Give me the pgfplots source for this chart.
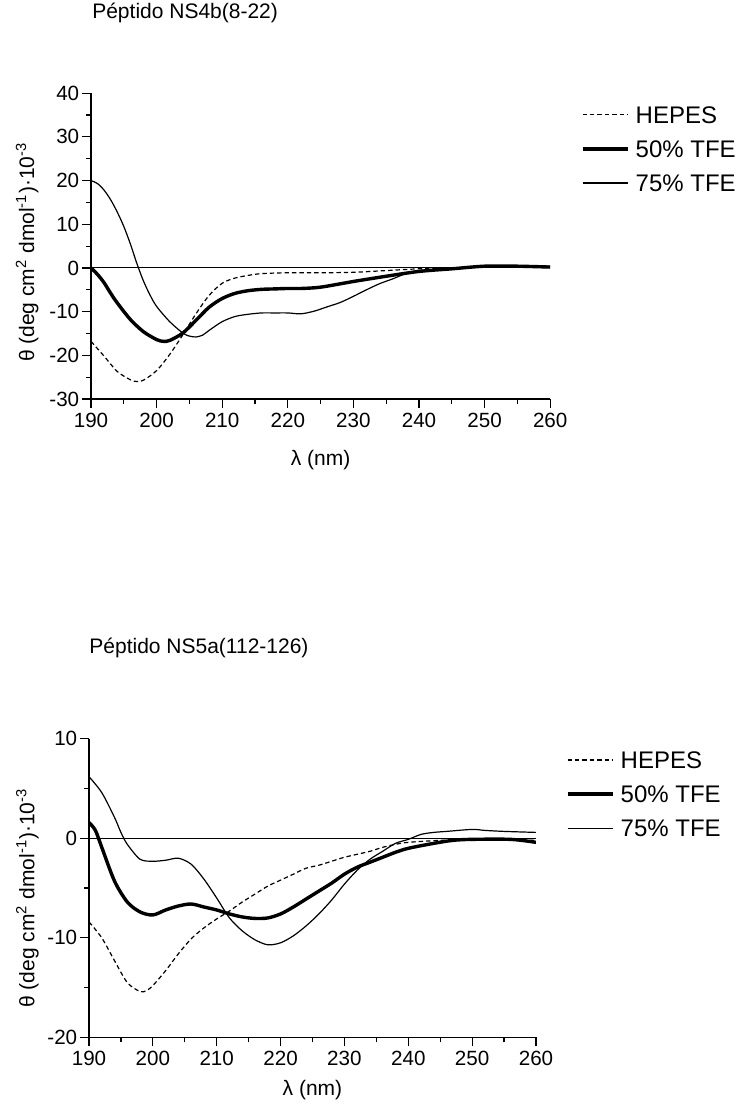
\documentclass[border=0pt]{standalone}
\usepackage{fontspec}
\setmainfont{Liberation Sans}
\usepackage{pgfplots}
\pgfplotsset{compat=1.18}

\pgfplotsset{
  cdaxis/.style={
    scale only axis,
    xmin=190, xmax=260,
    xtick={190,200,...,260},
    minor x tick num=1,
    minor y tick num=1,
    axis x line*=bottom,
    axis y line*=left,
    axis line style={line width=0.6pt, -},
    tick align=outside,
    major tick length=4.5pt,
    minor tick length=2.5pt,
    tick style={line width=0.6pt, black},
    every tick label/.append style={font=\fontsize{10.3}{12}\selectfont},
    /pgf/number format/assume math mode=true,
    xticklabel style={inner sep=2.3pt},
    yticklabel style={inner sep=1.2pt},
    label style={font=\fontsize{10.5}{12}\selectfont},
    xlabel={λ (nm)},
    ylabel={θ (deg cm\textsuperscript{2} dmol\textsuperscript{-1})·10\textsuperscript{-3}},
    title style={font=\fontsize{10.5}{12}\selectfont, anchor=west, inner sep=0pt},
    legend image code/.code={\draw[#1] (0pt,0pt) -- (22.5pt,0pt);},
    legend style={draw=none, fill=none, inner sep=0pt, column sep=3.2pt,
      font=\fontsize{12}{14}\selectfont,
      nodes={inner sep=0pt, text height=12.8pt, text depth=4.3pt},
      anchor=north west},
    legend cell align=left,
  },
  hepes/.style={black, line width=0.6pt, dash pattern=on 2.2pt off 1.5pt, smooth},
  tfefifty/.style={black, line width=1.7pt, smooth},
  tfeseventy/.style={black, line width=0.6pt, smooth},
}

\begin{document}
\begin{tikzpicture}
\useasboundingbox (0pt,0pt) rectangle (368pt,551.5pt);

% NS4b(8-22)
\begin{axis}[cdaxis,
  at={(45.5pt,352pt)}, anchor=south west,
  width=229.6pt, height=152.9pt,
  ymin=-30, ymax=40,
  ytick={-30,-20,...,40},
  title={Péptido NS4b(8-22)},
  title style={at={(axis description cs:0.002,1.223)}},
  xlabel style={at={(axis description cs:0.5,-0.2)}, anchor=center},
  ylabel style={at={(axis description cs:-0.139,0.48)}, anchor=center},
  legend style={at={(axis description cs:1.066,0.987)}},
]
\addplot[black, line width=0.5pt, forget plot] coordinates {(190,0) (260,0)};
\addplot[hepes] coordinates {
(190,-16.8) (192,-20.2) (194,-23.7) (196,-25.6) (197,-26.0) (198,-25.7)
(200,-23.5) (202,-19.8) (204,-15.3) (206,-10.5) (208,-6.3) (210,-3.5)
(212,-2.3) (214,-1.7) (216,-1.3) (220,-1.1) (225,-1.1) (230,-1.0)
(235,-0.6) (240,-0.2) (245,0.0) (250,0.2) (255,0.2) (260,0.1)
};
\addplot[tfefifty] coordinates {
(190,0.0) (191,-1.5) (192,-3.4) (193,-5.8) (194,-8.0) (196,-11.8) (198,-14.6) (200,-16.4)
(201,-16.8) (202,-16.6) (204,-14.9) (206,-12.0) (208,-9.0) (210,-7.0)
(212,-5.8) (214,-5.2) (216,-4.9) (218,-4.8) (220,-4.7) (222,-4.7)
(225,-4.4) (230,-3.1) (235,-1.9) (240,-0.8) (245,-0.2) (250,0.4)
(255,0.4) (260,0.2)
};
\addplot[tfeseventy] coordinates {
(190,20.0) (191,19.3) (192,17.8) (193,15.6) (194,12.8) (195,9.5)
(196,5.5) (197,1.0) (198,-3.0) (199,-6.2) (200,-8.8) (202,-12.3)
(204,-14.9) (205,-15.6) (206,-15.8)
(207,-15.4) (208,-14.3) (210,-12.3) (212,-11.1) (214,-10.6) (216,-10.3)
(218,-10.3) (220,-10.3) (222,-10.5) (224,-9.9) (226,-8.9) (228,-7.9)
(230,-6.5) (232,-5.0) (234,-3.6) (236,-2.5) (238,-1.3) (240,-0.6)
(245,-0.1) (250,0.4) (255,0.5) (260,0.4)
};
\legend{HEPES, 50\% TFE, 75\% TFE}
\end{axis}

% NS5a(112-126)
\begin{axis}[cdaxis,
  at={(44.5pt,32.85pt)}, anchor=south west,
  width=223.5pt, height=149.2pt,
  ymin=-20, ymax=10,
  ytick={-20,-10,0,10},
  title={Péptido NS5a(112-126)},
  title style={at={(axis description cs:0,1.265)}},
  xlabel style={at={(axis description cs:0.5,-0.177)}, anchor=center},
  ylabel style={at={(axis description cs:-0.1376,0.467)}, anchor=center},
  legend style={at={(axis description cs:1.066,0.988)}},
]
\addplot[black, line width=0.5pt, forget plot] coordinates {(190,0) (260,0)};
\addplot[hepes] coordinates {
(190,-8.4) (192,-10.0) (194,-12.3) (196,-14.5) (198,-15.4) (199,-15.3)
(200,-14.8) (202,-13.3) (204,-11.6) (206,-10.1) (208,-9.0) (210,-8.1)
(212,-7.3) (214,-6.4) (216,-5.6) (218,-4.8) (220,-4.2) (222,-3.6)
(224,-3.0) (226,-2.7) (228,-2.3) (230,-1.9) (232,-1.6) (234,-1.3)
(236,-0.9) (238,-0.6) (240,-0.4) (245,-0.2) (250,-0.1) (255,-0.1) (260,-0.2)
};
\addplot[tfefifty] coordinates {
(190,1.6) (191,0.8) (192,-0.9) (194,-4.3) (196,-6.4) (198,-7.4)
(200,-7.7) (202,-7.2) (204,-6.8) (206,-6.6) (208,-6.9) (210,-7.2)
(212,-7.6) (214,-7.9) (216,-8.05) (218,-8.0) (220,-7.6) (222,-6.9)
(224,-6.1) (226,-5.3) (228,-4.5) (230,-3.6) (232,-2.9) (234,-2.4)
(236,-1.9) (238,-1.4) (240,-1.0) (244,-0.5) (247,-0.2) (250,-0.1)
(256,-0.1) (260,-0.4)
};
\addplot[tfeseventy] coordinates {
(190,6.2) (192,4.6) (194,2.1) (195,0.6) (196,-0.6) (198,-2.1)
(200,-2.3) (202,-2.2) (204,-2.0) (206,-2.6) (208,-4.1) (210,-6.0)
(212,-8.0) (214,-9.3) (216,-10.2) (218,-10.7) (220,-10.5) (222,-9.8)
(224,-8.8) (226,-7.6) (228,-6.2) (230,-4.6) (232,-3.2) (234,-2.1)
(236,-1.3) (238,-0.5) (240,-0.1) (242,0.4) (244,0.6) (246,0.7)
(250,0.9) (252,0.8) (255,0.7) (260,0.6)
};
\legend{HEPES, 50\% TFE, 75\% TFE}
\end{axis}
\end{tikzpicture}
\end{document}
